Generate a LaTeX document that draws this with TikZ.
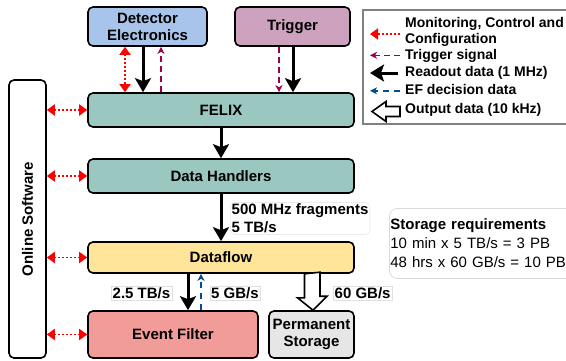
\documentclass[tikz,border=0pt]{standalone}
\usepackage{fontspec}
\setmainfont{Liberation Sans}
\usetikzlibrary{arrows.meta,calc}
\definecolor{detblue}{HTML}{A9C4EB}
\definecolor{trigpink}{HTML}{CDA2BE}
\definecolor{felixgreen}{HTML}{9AC7BF}
\definecolor{flowyellow}{HTML}{FFE599}
\definecolor{filterred}{HTML}{F19C99}
\definecolor{storegray}{HTML}{E6E6E6}
\definecolor{trigline}{HTML}{99004D}
\definecolor{efblue}{HTML}{004C99}
\begin{document}
\begin{tikzpicture}[x=1pt,y=-1pt,
  block/.style={shape=rectangle,draw=black,line width=1.6pt,rounded corners=5pt,
    align=center,inner sep=0pt,font=\bfseries\fontsize{15}{17}\selectfont},
  rate/.style={draw=black!12,fill=white,inner sep=1.5pt,align=left,
    font=\bfseries\fontsize{15}{18}\selectfont},
  legtext/.style={inner sep=0pt,align=left,
    font=\bfseries\fontsize{14}{16}\selectfont},
  monitor/.style={draw=red,line width=1.8pt,dash pattern=on 2pt off 2pt,
    {Triangle[length=8pt,width=11pt]}-{Triangle[length=8pt,width=11pt]}},
  trigsig/.style={draw=trigline,line width=1.6pt,dash pattern=on 6pt off 4pt,
    -{Stealth[length=7pt,width=7pt,inset=2pt]}},
  readout/.style={draw=black,line width=3pt,-{Stealth[length=14pt,width=16pt,inset=3pt]}},
  efdec/.style={draw=efblue,line width=1.6pt,dash pattern=on 6pt off 5pt,
    -{Stealth[length=7pt,width=7pt,inset=2pt]}},
  output/.style={draw=black,line width=1.6pt,fill=white,line join=miter}
]
  \useasboundingbox (0,0) rectangle (566,360);

  % main boxes
  \node[block,fill=detblue,minimum width=119pt,minimum height=39pt] (detector) at (147.5,26.5) {Detector\\Electronics};
  \node[block,fill=trigpink,minimum width=115pt,minimum height=39pt] (trigger) at (292.5,26.5) {Trigger};
  \node[block,fill=felixgreen,minimum width=266pt,minimum height=34pt] (felix) at (221,110) {FELIX};
  \node[block,fill=felixgreen,minimum width=266pt,minimum height=34pt] (handlers) at (221,176) {Data Handlers};
  \node[block,fill=flowyellow,minimum width=266pt,minimum height=31pt] (dataflow) at (221,257.5) {Dataflow};
  \node[block,fill=filterred,minimum width=170pt,minimum height=47pt] (filter) at (173,334.5) {Event Filter};
  \node[block,fill=storegray,minimum width=85pt,minimum height=47pt] (storage) at (311.5,334.5) {Permanent\\Storage};
  \node[block,fill=white,minimum width=37pt,minimum height=278pt] (online) at (27.5,219) {};
  \node[rotate=90,font=\bfseries\fontsize{15}{17}\selectfont] (onlinetext) at (online.center) {Online Software};

  % detector and trigger to FELIX
  \draw[monitor] ([xshift=-22.5pt]detector.south) -- ([xshift=-22.5pt]detector.south |- felix.north);
  \draw[readout] ([xshift=-4.5pt]detector.south) -- ([xshift=-4.5pt]detector.south |- felix.north);
  \draw[trigsig] ([xshift=13.5pt]detector.south |- felix.north) -- ([xshift=13.5pt]detector.south);
  \draw[trigsig] ([xshift=-13.5pt]trigger.south) -- ([xshift=-13.5pt]trigger.south |- felix.north);
  \draw[readout] ([xshift=0.5pt]trigger.south) -- ([xshift=0.5pt]trigger.south |- felix.north);

  % online software links
  \foreach \n in {felix,handlers,dataflow,filter}
    \draw[monitor] (online.east |- \n.west) -- (\n.west);

  % readout chain
  \draw[readout] (felix.south) -- (handlers.north);
  \draw[readout] (handlers.south) -- (dataflow.north);
  \draw[readout] ([xshift=15pt]filter.north |- dataflow.south) -- ([xshift=15pt]filter.north);
  \draw[efdec] ([xshift=28pt]filter.north) -- ([xshift=28pt]filter.north |- dataflow.south);
  \draw[output] ([xshift=-7pt]storage.north |- dataflow.south) -- ++(0,24) -- ++(-7,0)
    -- ([xshift=1.5pt]storage.north) -- ++(14,-14) -- ++(-7,0) -- ++(0,-24) -- cycle;

  % rates
  \node[rate,rounded corners=5pt,anchor=west] (fraglabel) at (230,218.5) {500 MHz fragments\\5 TB/s};
  \node[rate,anchor=center] (ratefilter) at (141.5,293.5) {2.5 TB/s};
  \node[rate,anchor=center] (rateef) at (235,293.5) {5 GB/s};
  \node[rate,anchor=west] (ratestore) at (333,293.5) {60 GB/s};

  % storage requirements
  \node[draw=black!15,line width=0.8pt,rounded corners=8pt,anchor=north west,text width=190pt,
    minimum height=70pt,inner xsep=1pt,align=left,font=\fontsize{15}{19}\selectfont] (req) at (389,208)
    {\textbf{Storage requirements}\\10 min x 5 TB/s = 3 PB\\48 hrs x 60 GB/s = 10 PB};

  % legend
  \draw[draw=black!50,line width=1.2pt] (363,10) rectangle (580,124);
  \node[legtext,anchor=west] (lmon) at (405,31.7) {Monitoring, Control and\\Configuration};
  \node[legtext,anchor=base west] (ltrig) at (405,59) {Trigger signal};
  \node[legtext,anchor=base west] (lread) at (405,76.7) {Readout data (1 MHz)};
  \node[legtext,anchor=base west] (lef) at (405,94.3) {EF decision data};
  \node[legtext,anchor=base west] (lout) at (405,113.3) {Output data (10 kHz)};
  \draw[monitor,-{Triangle[length=8pt,width=11pt]}] ([shift={(-5,2.3)}]lmon.west) -- ++(-30,0);
  \draw[trigsig] ([shift={(-5,-3.7)}]ltrig.base west) -- ++(-30,0);
  \draw[readout,-{Stealth[length=14pt,width=17pt,inset=3pt]}] ([shift={(-7,-3.7)}]lread.base west) -- ++(-28,0);
  \draw[efdec] ([shift={(-5,-3.5)}]lef.base west) -- ++(-30,0);
  \draw[output] ([shift={(-5,3.2)}]lout.base west) -- ++(-14,0) -- ++(0,5)
    -- ++(-14,-10) -- ++(14,-10) -- ++(0,5) -- ++(14,0) -- cycle;
\end{tikzpicture}
\end{document}
